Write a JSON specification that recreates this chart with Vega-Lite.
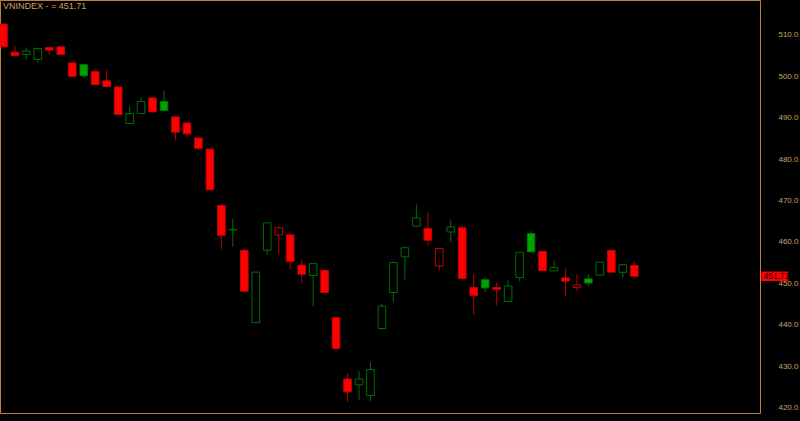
{
  "$schema": "https://vega.github.io/schema/vega-lite/v6.json",
  "width": 760,
  "height": 413,
  "autosize": {"type": "none"},
  "padding": {"left": 0, "top": 0, "right": 40, "bottom": 8},
  "background": "#000000",
  "config": {
    "view": {"stroke": "#c0803c", "strokeWidth": 1, "fill": "#000000"},
    "font": "Liberation Sans"
  },
  "title": {
    "text": "VNINDEX -  = 451.71",
    "anchor": "start",
    "frame": "group",
    "orient": "top",
    "offset": -18,
    "baseline": "alphabetic",
    "dx": 3,
    "fontSize": 9,
    "fontWeight": "normal",
    "color": "#c8a464",
    "font": "Liberation Sans"
  },
  "data": {
    "values": [
      {"t": 1, "open": 512.6, "high": 512.6, "low": 507.1, "close": 507.1},
      {"t": 2, "open": 505.8, "high": 507.3, "low": 505.0, "close": 505.0},
      {"t": 3, "open": 505.25, "high": 507.0, "low": 504.1, "close": 506.1},
      {"t": 4, "open": 504.05, "high": 506.7, "low": 503.2, "close": 506.7},
      {"t": 5, "open": 506.9, "high": 506.9, "low": 505.2, "close": 506.3},
      {"t": 6, "open": 507.1, "high": 507.1, "low": 505.25, "close": 505.25},
      {"t": 7, "open": 503.2, "high": 503.4, "low": 500.0, "close": 500.0},
      {"t": 8, "open": 502.8, "high": 502.8, "low": 499.6, "close": 500.1},
      {"t": 9, "open": 501.1, "high": 501.8, "low": 498.0, "close": 498.0},
      {"t": 10, "open": 498.9, "high": 501.6, "low": 497.5, "close": 497.5},
      {"t": 11, "open": 497.4, "high": 497.6, "low": 490.8, "close": 490.8},
      {"t": 12, "open": 488.6, "high": 492.8, "low": 488.6, "close": 491.0},
      {"t": 13, "open": 491.0, "high": 494.9, "low": 491.0, "close": 493.9},
      {"t": 14, "open": 494.75, "high": 495.0, "low": 491.2, "close": 491.4},
      {"t": 15, "open": 493.9, "high": 496.5, "low": 491.7, "close": 491.7},
      {"t": 16, "open": 490.2, "high": 490.2, "low": 484.5, "close": 486.5},
      {"t": 17, "open": 488.7, "high": 489.0, "low": 485.3, "close": 486.1},
      {"t": 18, "open": 485.1, "high": 485.1, "low": 482.2, "close": 482.6},
      {"t": 19, "open": 482.4, "high": 482.4, "low": 472.6, "close": 472.6},
      {"t": 20, "open": 468.8, "high": 469.0, "low": 458.2, "close": 461.6},
      {"t": 21, "open": 462.9, "high": 465.6, "low": 458.9, "close": 463.0},
      {"t": 22, "open": 457.95, "high": 458.4, "low": 448.1, "close": 448.1},
      {"t": 23, "open": 440.5, "high": 452.7, "low": 440.5, "close": 452.7},
      {"t": 24, "open": 458.0, "high": 464.6, "low": 456.9, "close": 464.6},
      {"t": 25, "open": 461.7, "high": 463.8, "low": 457.2, "close": 463.4},
      {"t": 26, "open": 461.7, "high": 462.0, "low": 453.3, "close": 455.3},
      {"t": 27, "open": 454.4, "high": 455.7, "low": 450.1, "close": 452.2},
      {"t": 28, "open": 451.9, "high": 454.75, "low": 444.5, "close": 454.75},
      {"t": 29, "open": 453.1, "high": 453.1, "low": 447.8, "close": 447.8},
      {"t": 30, "open": 441.7, "high": 441.7, "low": 433.7, "close": 434.3},
      {"t": 31, "open": 426.9, "high": 428.2, "low": 421.4, "close": 423.8},
      {"t": 32, "open": 425.5, "high": 428.8, "low": 421.8, "close": 426.9},
      {"t": 33, "open": 422.9, "high": 431.0, "low": 421.6, "close": 429.2},
      {"t": 34, "open": 439.1, "high": 445.1, "low": 439.1, "close": 444.5},
      {"t": 35, "open": 447.8, "high": 455.3, "low": 445.4, "close": 455.0},
      {"t": 36, "open": 456.4, "high": 458.6, "low": 450.9, "close": 458.6},
      {"t": 37, "open": 463.8, "high": 469.0, "low": 463.8, "close": 465.8},
      {"t": 38, "open": 463.25, "high": 467.1, "low": 459.0, "close": 460.4},
      {"t": 39, "open": 454.2, "high": 458.4, "low": 453.1, "close": 458.4},
      {"t": 40, "open": 462.4, "high": 465.4, "low": 459.8, "close": 463.6},
      {"t": 41, "open": 463.4, "high": 464.05, "low": 451.2, "close": 451.2},
      {"t": 42, "open": 449.0, "high": 452.3, "low": 442.4, "close": 447.1},
      {"t": 43, "open": 450.9, "high": 451.4, "low": 447.9, "close": 448.9},
      {"t": 44, "open": 449.0, "high": 450.2, "low": 444.7, "close": 448.55},
      {"t": 45, "open": 445.6, "high": 450.7, "low": 445.6, "close": 449.35},
      {"t": 46, "open": 451.4, "high": 457.5, "low": 450.55, "close": 457.5},
      {"t": 47, "open": 462.0, "high": 462.6, "low": 457.6, "close": 457.6},
      {"t": 48, "open": 457.7, "high": 457.7, "low": 453.1, "close": 453.1},
      {"t": 49, "open": 453.0, "high": 455.5, "low": 453.0, "close": 453.8},
      {"t": 50, "open": 451.3, "high": 453.5, "low": 447.1, "close": 450.55},
      {"t": 51, "open": 448.96, "high": 452.2, "low": 448.1, "close": 449.6},
      {"t": 52, "open": 451.1, "high": 452.2, "low": 449.3, "close": 450.07},
      {"t": 53, "open": 452.0, "high": 455.1, "low": 452.0, "close": 455.1},
      {"t": 54, "open": 457.95, "high": 457.95, "low": 452.7, "close": 452.7},
      {"t": 55, "open": 452.65, "high": 454.5, "low": 451.3, "close": 454.5},
      {"t": 56, "open": 454.3, "high": 455.3, "low": 451.71, "close": 451.71}
    ]
  },
  "transform": [
    {"window": [{"op": "lag", "field": "close", "as": "prev"}], "sort": [{"field": "t"}]}
  ],
  "encoding": {
    "x": {"field": "t", "type": "quantitative", "scale": {"domain": [0.70, 66.96], "nice": false, "zero": false, "padding": 0}, "axis": null}
  },
  "layer": [
    {
      "mark": {"type": "rule", "strokeWidth": 1, "clip": true},
      "encoding": {
        "y": {
          "field": "low", "type": "quantitative",
          "scale": {"domain": [418.7, 518.4], "nice": false, "zero": false},
          "axis": {
            "orient": "right",
            "values": [420, 430, 440, 450, 460, 470, 480, 490, 500, 510],
            "format": ".1f",
            "title": null,
            "grid": false,
            "ticks": false,
            "domain": false,
            "labelAlign": "right",
            "labelPadding": 38,
            "labelColor": "#c8a464",
            "labelFontSize": 8,
            "labelFont": "Liberation Sans"
          }
        },
        "y2": {"field": "high"},
        "color": {
          "condition": {"test": "datum.prev == null ? datum.close < datum.open : datum.close < datum.prev", "value": "#b80000"},
          "value": "#007000"
        }
      }
    },
    {
      "mark": {"type": "bar", "size": 7.6, "strokeWidth": 1, "clip": true},
      "encoding": {
        "y": {"field": "open", "type": "quantitative"},
        "y2": {"field": "close"},
        "fill": {
          "condition": [
            {"test": "datum.close >= datum.open", "value": "#000000"},
            {"test": "datum.prev == null ? datum.close < datum.open : datum.close < datum.prev", "value": "#ff0000"}
          ],
          "value": "#00a400"
        },
        "stroke": {
          "condition": {"test": "datum.prev == null ? datum.close < datum.open : datum.close < datum.prev", "value": "#c80000"},
          "value": "#007000"
        }
      }
    },
    {
      "transform": [{"filter": "datum.t == 56"}],
      "mark": {"type": "point", "shape": "M0.1,-0.35L2.1,-0.35L2.1,0.35L0.1,0.35Z", "size": 729, "filled": true, "color": "#ff0000", "opacity": 1, "clip": false},
      "encoding": {
        "x": {"value": "width"},
        "y": {"field": "close", "type": "quantitative"}
      }
    },
    {
      "transform": [{"filter": "datum.t == 56"}],
      "mark": {"type": "text", "align": "left", "baseline": "middle", "dx": 3.5, "fontSize": 8.5, "font": "Liberation Sans", "color": "#000000", "clip": false},
      "encoding": {
        "x": {"value": "width"},
        "y": {"field": "close", "type": "quantitative"},
        "text": {"field": "close", "type": "quantitative", "format": ".2f"}
      }
    }
  ]
}
